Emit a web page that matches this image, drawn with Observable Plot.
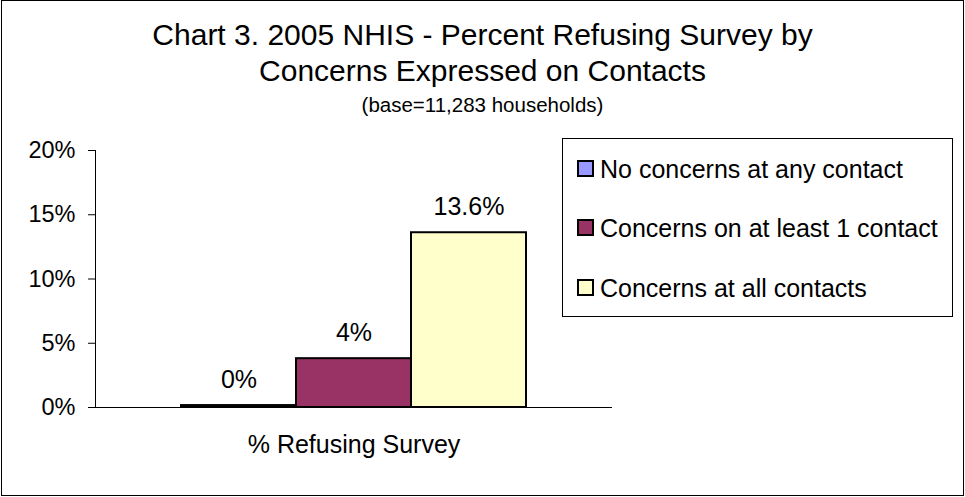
<!DOCTYPE html>
<html>
<head>
<meta charset="utf-8">
<script src="https://cdn.jsdelivr.net/npm/d3@7"></script>
<script src="https://cdn.jsdelivr.net/npm/@observablehq/plot@0.6"></script>
<style>
  html, body { margin: 0; padding: 0; background: #fff; }
  body { font-family: "Liberation Sans", Arial, sans-serif; color: #000; width: 965px; height: 497px; position: relative; overflow: hidden; }
  #frame { position: absolute; left: 1px; top: 0; width: 963px; height: 496px; border: 1.5px solid #000; box-sizing: border-box; }
  .title { position: absolute; left: 0; width: 965px; text-align: center; white-space: nowrap; }
  #chart { position: absolute; left: 0; top: 0; }
  #legend { position: absolute; left: 562px; top: 138px; width: 391px; height: 179px; border: 1px solid #000; box-sizing: border-box; background: #fff; }
  .item { position: absolute; left: 0; height: 26px; line-height: 26px; font-size: 25px; white-space: nowrap; }
  .sw { position: absolute; width: 13px; height: 13px; border: 2px solid #000; }
</style>
</head>
<body>
<div id="frame"></div>
<div id="chart"></div>
<div id="titles"></div>
<div id="legend"></div>
<script>
// ---- data ----
const titleLines = ["Chart 3. 2005 NHIS - Percent Refusing Survey by", "Concerns Expressed on Contacts"];
const subtitle = "(base=11,283 households)";
const category = "% Refusing Survey";
const series = ["No concerns at any contact", "Concerns on at least 1 contact", "Concerns at all contacts"];
const values = [0.15, 3.8, 13.6];
const valueLabels = ["0%", "4%", "13.6%"];
const colors = ["#9999FF", "#993366", "#FFFFCC"];
const yTicks = [0, 5, 10, 15, 20];

const data = series.map((s, i) => ({series: s, value: values[i], label: valueLabels[i]}));

// ---- titles ----
const titles = document.getElementById("titles");
[[titleLines[0], 30, 19.6], [titleLines[1], 30, 55.6], [subtitle, 20.5, 94.7]].forEach(([t, fs, top]) => {
  const d = document.createElement("div");
  d.className = "title";
  d.style.top = top + "px";
  d.style.fontSize = fs + "px";
  d.style.lineHeight = fs + "px";
  d.textContent = t;
  titles.appendChild(d);
});

// ---- chart ----
const plot = Plot.plot({
  width: 965,
  height: 497,
  marginLeft: 95,
  marginRight: 353,
  marginTop: 150,
  marginBottom: 90,
  style: {background: "transparent", fontFamily: "Liberation Sans, Arial, sans-serif", fontSize: "24px", color: "#000", overflow: "visible"},
  x: {domain: series, paddingInner: 0, paddingOuter: 0.736, axis: null},
  y: {domain: [0, 20]},
  color: {type: "ordinal", domain: series, range: colors},
  marks: [
    Plot.axisY({ticks: yTicks, tickFormat: d => d + "%", tickSize: 7, tickPadding: 13, label: null, fontSize: 23.5}),
    Plot.frame({anchor: "left", stroke: "#000"}),
    Plot.ruleY([0], {stroke: "#000", strokeWidth: 1}),
    Plot.barY(data, {x: "series", y: "value", fill: "series", stroke: "#000", strokeWidth: 2}),
    Plot.text(data, {x: "series", y: "value", text: "label", dy: -26, fontSize: 25}),
    Plot.text([category], {frameAnchor: "bottom", dy: 45, fontSize: 25})
  ]
});
document.getElementById("chart").appendChild(plot);

// ---- legend ----
const legend = document.getElementById("legend");
const rowCenters = [168, 227, 287];
series.forEach((s, i) => {
  const it = document.createElement("div");
  it.className = "item";
  it.style.top = (rowCenters[i] - 138 - 13) + "px";
  const sw = document.createElement("div");
  sw.className = "sw";
  sw.style.left = (576 - 562) + "px";
  sw.style.top = "4px";
  sw.style.background = colors[i];
  const tx = document.createElement("span");
  tx.style.position = "absolute";
  tx.style.left = (599 - 562) + "px";
  tx.textContent = s;
  it.appendChild(sw);
  it.appendChild(tx);
  legend.appendChild(it);
});
</script>
</body>
</html>
